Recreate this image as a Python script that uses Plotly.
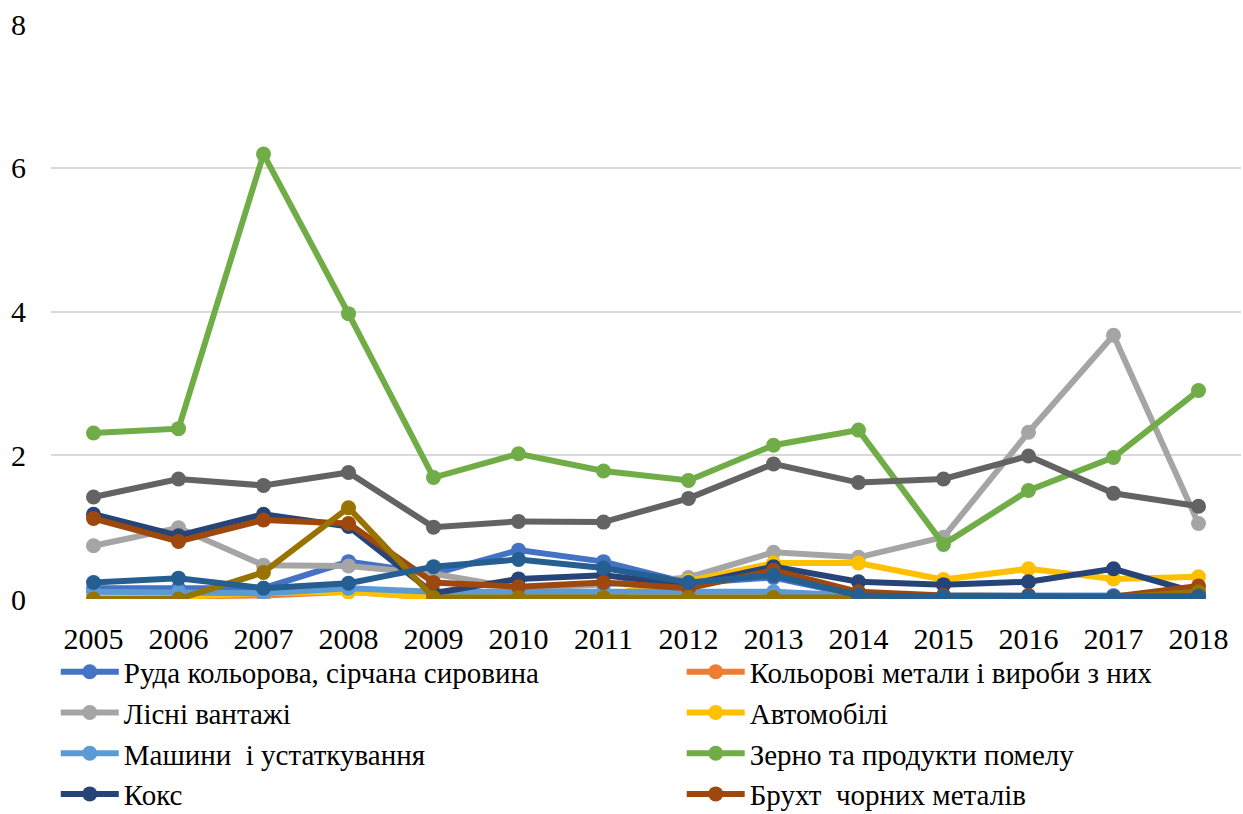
import plotly.graph_objects as go

years = list(range(2005, 2019))

names = [
    "Руда кольорова, сірчана сировина",
    "Кольорові метали і вироби з них",
    "Лісні вантажі",
    "Автомобілі",
    "Машини  і устаткування",
    "Зерно та продукти помелу",
    "Кокс",
    "Брухт  чорних металів",
    "Series 9",
    "Series 10",
    "Series 11",
]

ruda = [0.15, 0.15, 0.15, 0.52, 0.35, 0.68, 0.52, 0.22, 0.30, 0.05, 0.03, 0.03, 0.03, 0.04]
kolorovi = [0.02, 0.03, 0.05, 0.10, 0.02, 0.01, 0.00, 0.00, 0.00, 0.00, 0.00, 0.00, 0.00, 0.00]
lisni = [0.74, 0.99, 0.47, 0.46, 0.35, 0.15, 0.20, 0.30, 0.65, 0.58, 0.86, 2.32, 3.67, 1.05]
avto = [0.02, 0.03, 0.08, 0.10, 0.02, 0.02, 0.05, 0.25, 0.50, 0.50, 0.27, 0.42, 0.28, 0.31]
mashyny = [0.10, 0.10, 0.08, 0.15, 0.10, 0.10, 0.10, 0.08, 0.10, 0.05, 0.05, 0.05, 0.05, 0.05]
zerno = [2.31, 2.37, 6.19, 3.97, 1.69, 2.02, 1.78, 1.65, 2.14, 2.35, 0.76, 1.51, 1.97, 2.90]
koks = [1.18, 0.88, 1.18, 1.01, 0.08, 0.28, 0.33, 0.20, 0.45, 0.24, 0.20, 0.24, 0.42, 0.08]
brukht = [1.12, 0.80, 1.10, 1.05, 0.23, 0.17, 0.23, 0.15, 0.40, 0.10, 0.05, 0.05, 0.03, 0.18]
series9 = [1.42, 1.67, 1.58, 1.76, 1.00, 1.08, 1.07, 1.40, 1.88, 1.62, 1.67, 1.99, 1.47, 1.29]
series10 = [0.00, 0.00, 0.37, 1.27, 0.02, 0.02, 0.02, 0.02, 0.02, 0.03, 0.02, 0.02, 0.02, 0.10]
series11 = [0.23, 0.29, 0.15, 0.22, 0.45, 0.55, 0.43, 0.23, 0.33, 0.05, 0.03, 0.03, 0.03, 0.04]

values = [ruda, kolorovi, lisni, avto, mashyny, zerno, koks, brukht, series9, series10, series11]
colors = ["#4472C4", "#ED7D31", "#A5A5A5", "#FFC000", "#5B9BD5", "#70AD47",
          "#264478", "#9E480E", "#636363", "#997300", "#255E91"]
show = [True] * 8 + [False] * 3
legend_ref = ["legend", "legend2"] * 4 + ["legend"] * 3

FONT = "Times New Roman, Liberation Serif, serif"

fig = go.Figure()
for n, v, c, s, lg in zip(names, values, colors, show, legend_ref):
    fig.add_trace(go.Scatter(
        x=years, y=v, name=n, mode="lines+markers",
        line=dict(color=c, width=6),
        marker=dict(color=c, size=15),
        showlegend=s, legend=lg,
    ))

leg_common = dict(orientation="v", yanchor="top", y=-0.0825, xanchor="left",
                  itemwidth=58, bgcolor="rgba(0,0,0,0)", borderwidth=0,
                  font=dict(family=FONT, size=29))

fig.update_layout(
    width=1243, height=814,
    margin=dict(l=51, r=2, t=24, b=215, autoexpand=False),
    paper_bgcolor="white", plot_bgcolor="white",
    font=dict(family=FONT, size=30, color="black"),
    xaxis=dict(range=[2004.5, 2018.5], tickmode="array", tickvals=years,
               ticktext=[str(y) for y in years], showgrid=False, zeroline=False,
               showline=False, ticks="", ticklabelstandoff=19,
               tickfont=dict(family=FONT, size=30)),
    yaxis=dict(range=[0, 8], tickvals=[0, 2, 4, 6, 8], showgrid=True,
               gridcolor="#D9D9D9", gridwidth=1.5, zeroline=False, showline=False,
               ticks="", ticklabelstandoff=24, tickfont=dict(family=FONT, size=30)),
    legend=dict(x=0.004, **leg_common),
    legend2=dict(x=0.530, **leg_common),
    showlegend=True,
)

fig.write_html("out.html")
